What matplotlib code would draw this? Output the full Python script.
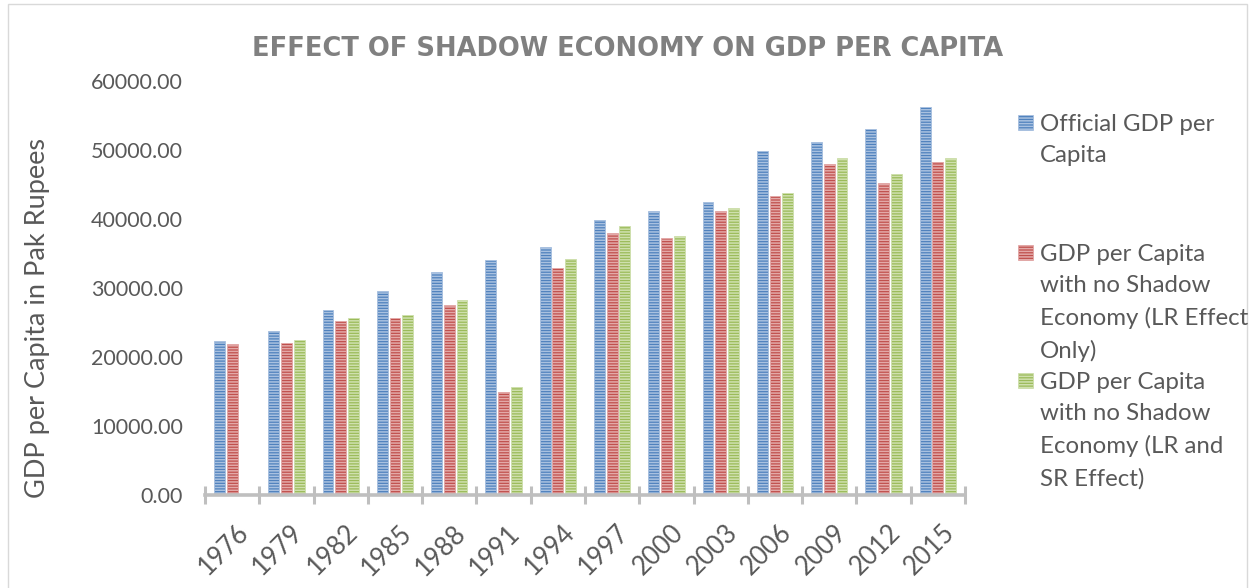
import numpy as np
import matplotlib
matplotlib.use("Agg")
import matplotlib.pyplot as plt
from matplotlib.patches import Rectangle
from matplotlib.transforms import ScaledTranslation

years = ["1976", "1979", "1982", "1985", "1988", "1991", "1994",
         "1997", "2000", "2003", "2006", "2009", "2012", "2015"]
official = [22300, 23800, 26800, 29500, 32300, 34100, 35900,
            39800, 41200, 42400, 49800, 51100, 53000, 56200]
lr_only = [21900, 22100, 25200, 25700, 27500, 15000, 32900,
           37900, 37200, 41200, 43300, 48000, 45200, 48300]
lr_sr = [np.nan, 22400, 25600, 26100, 28200, 15600, 34200,
         39000, 37600, 41600, 43700, 48800, 46500, 48900]
labels = ["Official GDP per\nCapita",
          "GDP per Capita\nwith no Shadow\nEconomy (LR Effect\nOnly)",
          "GDP per Capita\nwith no Shadow\nEconomy (LR and\nSR Effect)"]
title = "EFFECT OF SHADOW ECONOMY ON GDP PER CAPITA"
ylabel = "GDP per Capita in Pak Rupees"

colors = ["#4F81BD", "#C0504D", "#9BBB59"]
stripe = ["#A9C1E0", "#E3A9A8", "#CFE0AE"]

plt.rcParams['font.family'] = ['Lato', 'DejaVu Sans']
plt.rcParams['hatch.linewidth'] = 1.1

W, H = 1253, 588
fig = plt.figure(figsize=(W / 100, H / 100), dpi=100)
fig.patch.set_facecolor("white")
ax = fig.add_axes([205 / W, 1 - 495 / H, 760 / W, (495 - 81) / H])

x = np.arange(len(years))
bw = 0.2
pitch = 0.233
series = [official, lr_only, lr_sr]
for i, (vals, c, s) in enumerate(zip(series, colors, stripe)):
    ax.bar(x + (i - 1) * pitch, vals, width=bw, facecolor=c, edgecolor=s,
           hatch="------", linewidth=0.6, zorder=2)

ax.set_xlim(-0.5, len(years) - 0.5)
ax.set_ylim(0, 60000)
ax.set_yticks(np.arange(0, 60001, 10000))
ax.set_yticklabels([f"{v:.2f}" for v in np.arange(0, 60001, 10000)])
ax.tick_params(axis="y", length=0, pad=16, labelsize=15.5, labelcolor="#595959")

ax.set_xticks(x)
ax.set_xticklabels(years, rotation=45, ha="right", rotation_mode="anchor")
ax.tick_params(axis="x", which="major", length=0, pad=18, labelsize=18.5,
               labelcolor="#595959")
off = ScaledTranslation(4 / 100, 0, fig.dpi_scale_trans)
for lbl in ax.get_xticklabels():
    lbl.set_transform(lbl.get_transform() + off)
ax.set_xticks(np.arange(-0.5, len(years), 1.0), minor=True)
ax.tick_params(axis="x", which="minor", direction="inout", length=13,
               width=2.2, color="#BFBFBF")
for sp in ["top", "right", "left"]:
    ax.spines[sp].set_visible(False)
ax.spines["bottom"].set_color("#BFBFBF")
ax.spines["bottom"].set_linewidth(2.6)
ax.spines["bottom"].set_zorder(3)

fig.text(628 / W, 1 - 49 / H, title, ha="center", va="center",
         fontsize=18.5, fontweight="bold", color="#808080", family="DejaVu Sans")
fig.text(38 / W, 1 - 318 / H, ylabel, rotation=90, ha="center", va="center",
         fontsize=19.5, color="#595959")

legend_y = [122, 252, 380]
for lab, c, s, yy in zip(labels, colors, stripe, legend_y):
    r = Rectangle((1018 / W, 1 - (yy + 7.5) / H), 15 / W, 15 / H,
                  transform=fig.transFigure, facecolor=c, edgecolor=s,
                  hatch="------", linewidth=0.5)
    fig.patches.append(r)
    fig.text(1040 / W, 1 - (yy - 8) / H, lab, ha="left", va="top",
             fontsize=17.3, color="#595959", linespacing=1.6)

border = Rectangle((8 / W, -0.01), (1247 - 8) / W, 1 - 4 / H + 0.01,
                   transform=fig.transFigure, fill=False,
                   edgecolor="#D9D9D9", linewidth=1)
fig.patches.append(border)

fig.savefig("out.png", dpi=100)
